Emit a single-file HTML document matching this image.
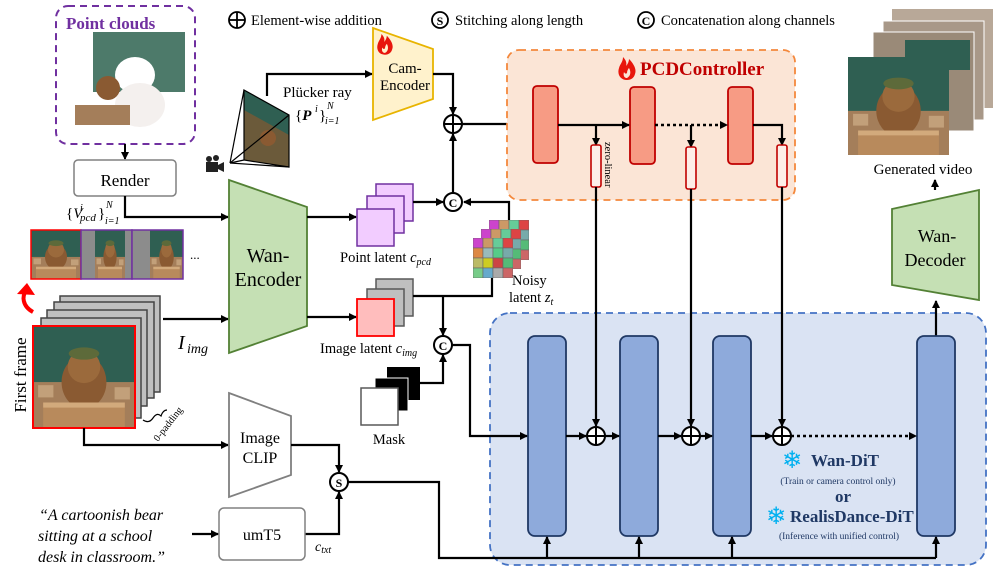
<!DOCTYPE html>
<html><head><meta charset="utf-8"><style>
html,body{margin:0;padding:0;background:#fff;}
svg{display:block;font-family:"Liberation Serif",serif;}
</style></head><body>
<svg width="997" height="580" viewBox="0 0 997 580" xmlns="http://www.w3.org/2000/svg">
<defs>
<marker id="ah" markerWidth="8" markerHeight="8" refX="7" refY="4" orient="auto" markerUnits="userSpaceOnUse">
<path d="M0,0 L8,4 L0,8 z" fill="#000"/></marker>
<symbol id="bear" viewBox="0 0 100 100" preserveAspectRatio="none">
<rect width="100" height="100" fill="#4d7a6a"/>
<rect y="0" width="100" height="55" fill="#2f5f52"/>
<rect y="55" width="100" height="45" fill="#a47e5a"/>
<rect x="5" y="58" width="15" height="12" fill="#c2a07a"/>
<rect x="80" y="60" width="15" height="12" fill="#c2a07a"/>
<ellipse cx="50" cy="55" rx="22" ry="26" fill="#8a5a32"/>
<circle cx="50" cy="40" r="16" fill="#9b6a3c"/>
<ellipse cx="50" cy="27" rx="15" ry="6" fill="#5d6a3a"/>
<rect x="10" y="75" width="80" height="25" fill="#b88a5c"/>
<rect x="10" y="75" width="80" height="5" fill="#d2aa7c"/>
</symbol>
<symbol id="flame" viewBox="0 0 20 26">
<path d="M10,26 C3,26 0,20 2,14 C3,10 6,8 6,3 C9,6 10,9 9,12 C11,10 12,7 12,5 C16,9 20,15 18,20 C17,24 14,26 10,26 z M10,24 C7,24 6,21 7,18 C8,20 9,20 10,19 C10,17 11,15 12,14 C14,17 14,22 10,24z" fill="#e8160c" fill-rule="evenodd"/>
</symbol>
<symbol id="grid" viewBox="0 0 40 40">
<g stroke="#666" stroke-width="0.6">
<rect x="0" y="0" width="10" height="10" fill="#c4c"/><rect x="10" y="0" width="10" height="10" fill="#c96"/><rect x="20" y="0" width="10" height="10" fill="#6c9"/><rect x="30" y="0" width="10" height="10" fill="#d44"/>
<rect x="0" y="10" width="10" height="10" fill="#d84"/><rect x="10" y="10" width="10" height="10" fill="#9bb"/><rect x="20" y="10" width="10" height="10" fill="#5c8"/><rect x="30" y="10" width="10" height="10" fill="#7aa"/>
<rect x="0" y="20" width="10" height="10" fill="#bb6"/><rect x="10" y="20" width="10" height="10" fill="#cc2"/><rect x="20" y="20" width="10" height="10" fill="#c44"/><rect x="30" y="20" width="10" height="10" fill="#5b7"/>
<rect x="0" y="30" width="10" height="10" fill="#7c8"/><rect x="10" y="30" width="10" height="10" fill="#6ac"/><rect x="20" y="30" width="10" height="10" fill="#aaa"/><rect x="30" y="30" width="10" height="10" fill="#c66"/>
</g></symbol>
</defs>

<!-- legend -->
<g font-size="14.5">
<circle cx="237" cy="20" r="8" fill="none" stroke="#000" stroke-width="1.8"/>
<line x1="229" y1="20" x2="245" y2="20" stroke="#000" stroke-width="1.8"/><line x1="237" y1="12" x2="237" y2="28" stroke="#000" stroke-width="1.8"/>
<text x="251" y="25">Element-wise addition</text>
<circle cx="440" cy="20" r="8" fill="none" stroke="#000" stroke-width="1.8"/>
<text x="440" y="25" font-size="12" font-weight="bold" text-anchor="middle">S</text>
<text x="455" y="25">Stitching along length</text>
<circle cx="646" cy="20" r="8" fill="none" stroke="#000" stroke-width="1.8"/>
<text x="646" y="25" font-size="12" font-weight="bold" text-anchor="middle">C</text>
<text x="661" y="25">Concatenation along channels</text>
</g>

<!-- point clouds -->
<rect x="56" y="6" width="139" height="138" rx="12" fill="none" stroke="#7030a0" stroke-width="2" stroke-dasharray="7,5"/>
<text x="66" y="29" font-size="17" font-weight="bold" fill="#7030a0">Point clouds</text>
<rect x="93" y="32" width="92" height="60" fill="#4d7a6a"/>
<ellipse cx="135" cy="75" rx="20" ry="18" fill="#fff"/>
<ellipse cx="140" cy="105" rx="25" ry="22" fill="#f4f0ee"/>
<circle cx="108" cy="88" r="12" fill="#8a5a32"/>
<rect x="75" y="105" width="55" height="20" fill="#a47e5a"/>
<line x1="125" y1="144" x2="125" y2="159" stroke="#000" stroke-width="2" marker-end="url(#ah)"/>
<rect x="74" y="160" width="102" height="36" rx="4" fill="#fff" stroke="#808080" stroke-width="1.5"/>
<text x="125" y="186" font-size="17" text-anchor="middle">Render</text>
<text x="66" y="218" font-size="15">{<tspan font-style="italic">V</tspan></text>
<text x="80" y="211" font-size="10" font-style="italic">i</text>
<text x="80" y="221" font-size="11" font-style="italic">pcd</text>
<text x="98" y="218" font-size="15">}</text>
<text x="106" y="208" font-size="10" font-style="italic">N</text>
<text x="105" y="224" font-size="10" font-style="italic">i=1</text>
<polyline points="125,196 125,217 228,217" fill="none" stroke="#000" stroke-width="2.2" marker-end="url(#ah)"/>
<!-- strip -->
<use href="#bear" x="31" y="230" width="50" height="49"/>
<rect x="31" y="230" width="50" height="49" fill="none" stroke="#f00" stroke-width="1.5"/>
<rect x="81" y="230" width="51" height="49" fill="#8c8c8c"/>
<use href="#bear" x="95" y="230" width="30" height="49"/>
<rect x="81" y="230" width="51" height="49" fill="none" stroke="#7030a0" stroke-width="1.5"/>
<rect x="132" y="230" width="51" height="49" fill="#8c8c8c"/>
<use href="#bear" x="150" y="230" width="33" height="49"/>
<rect x="132" y="230" width="51" height="49" fill="none" stroke="#7030a0" stroke-width="1.5"/>
<text x="190" y="259" font-size="13">...</text>
<!-- red curved arrow -->
<path d="M33,312 C22,306 22,296 26,291" fill="none" stroke="#f00" stroke-width="4"/>
<path d="M17,294 L27,283 L35,295 z" fill="#f00"/>
<!-- stacked frames -->
<rect x="60" y="296" width="100" height="96" fill="#c0c0c0" stroke="#444" stroke-width="1.5"/>
<rect x="54" y="302" width="100" height="96" fill="#c0c0c0" stroke="#444" stroke-width="1.5"/>
<rect x="47" y="310" width="100" height="96" fill="#c0c0c0" stroke="#444" stroke-width="1.5"/>
<rect x="41" y="318" width="100" height="100" fill="#c0c0c0" stroke="#444" stroke-width="1.5"/>
<use href="#bear" x="33" y="326" width="102" height="102"/>
<rect x="33" y="326" width="102" height="102" fill="none" stroke="#f00" stroke-width="2"/>
<text transform="translate(26,375) rotate(-90)" font-size="17" text-anchor="middle">First frame</text>
<path d="M143,420 q6,4 10,-2 q4,-6 8,-2 q2,-6 6,-6" fill="none" stroke="#000" stroke-width="1.2"/>
<text transform="translate(158,442) rotate(-52)" font-size="10">0-padding</text>
<line x1="163" y1="319" x2="228" y2="319" stroke="#000" stroke-width="2.2" marker-end="url(#ah)"/>
<text x="178" y="349" font-size="20" font-style="italic">I</text>
<text x="187" y="353" font-size="14" font-style="italic">img</text>
<!-- Wan encoder -->
<polygon points="229,180 307,207 307,326 229,353" fill="#c5e0b4" stroke="#538135" stroke-width="1.8"/>
<text x="268" y="262" font-size="20" text-anchor="middle">Wan-</text>
<text x="268" y="286" font-size="20" text-anchor="middle">Encoder</text>
<!-- camera -->
<polygon points="244,90 289,115 289,167 244,160" fill="#6b5a3a"/>
<polygon points="244,90 289,115 289,135 244,110" fill="#2f5f52"/>
<circle cx="268" cy="138" r="8" fill="#8a5a32"/>
<polygon points="244,90 289,115 289,167 244,160" fill="none" stroke="#000" stroke-width="1.2"/>
<g stroke="#000" stroke-width="1.2"><line x1="230" y1="163" x2="244" y2="90"/><line x1="230" y1="163" x2="289" y2="115"/><line x1="230" y1="163" x2="289" y2="167"/><line x1="230" y1="163" x2="244" y2="160"/></g>
<rect x="206" y="162" width="12" height="10" fill="#222"/><circle cx="209" cy="159" r="3" fill="#222"/><circle cx="216" cy="158" r="3" fill="#222"/><polygon points="218,165 224,162 224,172 218,169" fill="#222"/>
<polyline points="267,96 267,74 372,74" fill="none" stroke="#000" stroke-width="2.2" marker-end="url(#ah)"/>
<text x="283" y="97" font-size="15">Plücker ray</text>
<text x="295" y="120" font-size="15">{<tspan font-weight="bold" font-style="italic">P</tspan></text>
<text x="315" y="112" font-size="10" font-style="italic">i</text>
<text x="319" y="120" font-size="15">}</text>
<text x="327" y="109" font-size="10" font-style="italic">N</text>
<text x="325" y="124" font-size="10" font-style="italic">i=1</text>
<!-- cam encoder -->
<polygon points="373,28 433,49 433,99 373,120" fill="#fff2cc" stroke="#e8b400" stroke-width="1.8"/>
<use href="#flame" x="376" y="31" width="18" height="24"/>
<text x="405" y="73" font-size="15" text-anchor="middle">Cam-</text>
<text x="405" y="90" font-size="15" text-anchor="middle">Encoder</text>
<polyline points="433,74 453,74 453,114" fill="none" stroke="#000" stroke-width="2.2" marker-end="url(#ah)"/>
<circle cx="453" cy="124" r="9" fill="#fff" stroke="#000" stroke-width="2"/>
<line x1="444" y1="124" x2="462" y2="124" stroke="#000" stroke-width="2"/><line x1="453" y1="115" x2="453" y2="133" stroke="#000" stroke-width="2"/>
<line x1="453" y1="193" x2="453" y2="134" stroke="#000" stroke-width="2.2" marker-end="url(#ah)"/>
<line x1="462" y1="124" x2="532" y2="124" stroke="#000" stroke-width="2.2" marker-end="url(#ah)"/>
<!-- point latent -->
<line x1="307" y1="217" x2="356" y2="217" stroke="#000" stroke-width="2.2" marker-end="url(#ah)"/>
<rect x="376" y="184" width="37" height="37" fill="#f2ccff" stroke="#7030a0" stroke-width="1.5"/>
<rect x="367" y="196" width="37" height="37" fill="#f2ccff" stroke="#7030a0" stroke-width="1.5"/>
<rect x="357" y="209" width="37" height="37" fill="#f2ccff" stroke="#7030a0" stroke-width="1.5"/>
<text x="340" y="262" font-size="14.5">Point latent <tspan font-style="italic">c</tspan><tspan font-style="italic" font-size="10" dy="3">pcd</tspan></text>
<line x1="413" y1="202" x2="443" y2="202" stroke="#000" stroke-width="2.2" marker-end="url(#ah)"/>
<polyline points="509,220 509,202 464,202" fill="none" stroke="#000" stroke-width="2.2" marker-end="url(#ah)"/>
<circle cx="453" cy="202" r="9" fill="#fff" stroke="#000" stroke-width="2"/>
<text x="453" y="207" font-size="12" font-weight="bold" text-anchor="middle">C</text>
<!-- noisy latent grid -->
<use href="#grid" x="489" y="220" width="40" height="40"/>
<use href="#grid" x="481" y="229" width="40" height="40"/>
<use href="#grid" x="473" y="238" width="40" height="40"/>
<text x="512" y="285" font-size="14.5">Noisy</text>
<text x="509" y="302" font-size="14.5">latent <tspan font-style="italic">z</tspan><tspan font-style="italic" font-size="10" dy="3">t</tspan></text>
<!-- image latent -->
<line x1="307" y1="317" x2="356" y2="317" stroke="#000" stroke-width="2.2" marker-end="url(#ah)"/>
<rect x="376" y="279" width="37" height="37" fill="#bfbfbf" stroke="#595959" stroke-width="1.5"/>
<rect x="367" y="289" width="37" height="37" fill="#bfbfbf" stroke="#595959" stroke-width="1.5"/>
<rect x="357" y="299" width="37" height="37" fill="#ffbdbd" stroke="#f00" stroke-width="1.8"/>
<text x="320" y="353" font-size="14.5">Image latent <tspan font-style="italic">c</tspan><tspan font-style="italic" font-size="10" dy="3">img</tspan></text>
<polyline points="413,296 492,296 492,278" fill="none" stroke="#000" stroke-width="2.2"/>
<line x1="443" y1="296" x2="443" y2="335" stroke="#000" stroke-width="2.2" marker-end="url(#ah)"/>
<!-- mask -->
<rect x="387" y="367" width="33" height="33" fill="#000"/>
<rect x="375" y="378" width="33" height="33" fill="#000" stroke="#fff" stroke-width="1"/>
<rect x="361" y="388" width="37" height="37" fill="#fff" stroke="#595959" stroke-width="1.5"/>
<text x="389" y="444" font-size="14.5" text-anchor="middle">Mask</text>
<polyline points="420,383 443,383 443,355" fill="none" stroke="#000" stroke-width="2.2" marker-end="url(#ah)"/>
<circle cx="443" cy="345" r="9" fill="#fff" stroke="#000" stroke-width="2"/>
<text x="443" y="350" font-size="12" font-weight="bold" text-anchor="middle">C</text>

<!-- PCDController -->
<rect x="507" y="50" width="288" height="150" rx="12" fill="#fbe5d6" stroke="#f4883c" stroke-width="1.8" stroke-dasharray="7,5"/>
<use href="#flame" x="617" y="53" width="20" height="28"/>
<text x="640" y="75" font-size="19" font-weight="bold" fill="#c00000">PCDController</text>
<g fill="#f79b84" stroke="#c00000" stroke-width="1.8">
<rect x="533" y="86" width="25" height="77" rx="4"/>
<rect x="630" y="87" width="25" height="77" rx="4"/>
<rect x="728" y="87" width="25" height="77" rx="4"/>
</g>
<line x1="558" y1="125" x2="629" y2="125" stroke="#000" stroke-width="2.2" marker-end="url(#ah)"/>
<line x1="655" y1="125" x2="727" y2="125" stroke="#000" stroke-width="2.5" stroke-dasharray="3,3" marker-end="url(#ah)"/>
<polyline points="753,125 782,125 782,145" fill="none" stroke="#000" stroke-width="2.2" marker-end="url(#ah)"/>
<line x1="596" y1="125" x2="596" y2="145" stroke="#000" stroke-width="2.2" marker-end="url(#ah)"/>
<line x1="691" y1="125" x2="691" y2="147" stroke="#000" stroke-width="2.2" marker-end="url(#ah)"/>
<g fill="#fdeee8" stroke="#c00000" stroke-width="1.6">
<rect x="591" y="145" width="10" height="42" rx="2"/>
<rect x="686" y="147" width="10" height="42" rx="2"/>
<rect x="777" y="145" width="10" height="42" rx="2"/>
</g>
<text transform="translate(605,142) rotate(90)" font-size="10.5">zero-linear</text>

<!-- generated video -->
<rect x="892" y="9" width="101" height="99" fill="#b8a898"/>
<rect x="883" y="21" width="101" height="99" fill="#a89888" stroke="#fff"/>
<rect x="873" y="32" width="101" height="99" fill="#9a8a78" stroke="#fff"/>
<rect x="905" y="40" width="65" height="30" fill="#2f5f52"/>
<use href="#bear" x="848" y="57" width="101" height="98"/>
<text x="923" y="174" font-size="15" text-anchor="middle">Generated video</text>
<line x1="935" y1="190" x2="935" y2="180" stroke="#000" stroke-width="2.2" marker-end="url(#ah)"/>
<polygon points="892,209 979,190 979,300 892,285" fill="#c5e0b4" stroke="#538135" stroke-width="1.8"/>
<text x="937" y="242" font-size="18" text-anchor="middle">Wan-</text>
<text x="935" y="266" font-size="18" text-anchor="middle">Decoder</text>

<!-- DiT -->
<rect x="490" y="313" width="496" height="252" rx="20" fill="#dae3f3" stroke="#4472c4" stroke-width="1.8" stroke-dasharray="7,5"/>
<line x1="936" y1="336" x2="936" y2="301" stroke="#000" stroke-width="2.2" marker-end="url(#ah)"/>
<g fill="#8eaadb" stroke="#1f3864" stroke-width="1.8">
<rect x="528" y="336" width="38" height="200" rx="7"/>
<rect x="620" y="336" width="38" height="200" rx="7"/>
<rect x="713" y="336" width="38" height="200" rx="7"/>
<rect x="917" y="336" width="38" height="200" rx="7"/>
</g>
<line x1="596" y1="187" x2="596" y2="426" stroke="#000" stroke-width="2.2" marker-end="url(#ah)"/>
<line x1="691" y1="189" x2="691" y2="426" stroke="#000" stroke-width="2.2" marker-end="url(#ah)"/>
<line x1="782" y1="187" x2="782" y2="426" stroke="#000" stroke-width="2.2" marker-end="url(#ah)"/>
<polyline points="452,345 470,345 470,436 527,436" fill="none" stroke="#000" stroke-width="2.2" marker-end="url(#ah)"/>
<line x1="566" y1="436" x2="586" y2="436" stroke="#000" stroke-width="2.2" marker-end="url(#ah)"/>
<line x1="605" y1="436" x2="619" y2="436" stroke="#000" stroke-width="2.2" marker-end="url(#ah)"/>
<line x1="658" y1="436" x2="681" y2="436" stroke="#000" stroke-width="2.2" marker-end="url(#ah)"/>
<line x1="700" y1="436" x2="712" y2="436" stroke="#000" stroke-width="2.2" marker-end="url(#ah)"/>
<line x1="751" y1="436" x2="772" y2="436" stroke="#000" stroke-width="2.2" marker-end="url(#ah)"/>
<line x1="791" y1="436" x2="916" y2="436" stroke="#000" stroke-width="2.5" stroke-dasharray="3,3" marker-end="url(#ah)"/>
<g fill="#fff" stroke="#000" stroke-width="2">
<circle cx="596" cy="436" r="9"/><circle cx="691" cy="436" r="9"/><circle cx="782" cy="436" r="9"/>
</g>
<g stroke="#000" stroke-width="2">
<line x1="587" y1="436" x2="605" y2="436"/><line x1="596" y1="427" x2="596" y2="445"/>
<line x1="682" y1="436" x2="700" y2="436"/><line x1="691" y1="427" x2="691" y2="445"/>
<line x1="773" y1="436" x2="791" y2="436"/><line x1="782" y1="427" x2="782" y2="445"/>
</g>
<text x="792" y="468" font-size="24" fill="#00b0f0" text-anchor="middle" font-family="DejaVu Sans">❄</text>
<text x="811" y="466" font-size="17" font-weight="bold" fill="#1f3864">Wan-DiT</text>
<text x="838" y="484" font-size="9.5" fill="#1f3864" text-anchor="middle">(Train or camera control only)</text>
<text x="843" y="502" font-size="17" font-weight="bold" fill="#1f3864" text-anchor="middle">or</text>
<text x="776" y="524" font-size="24" fill="#00b0f0" text-anchor="middle" font-family="DejaVu Sans">❄</text>
<text x="790" y="522" font-size="17" font-weight="bold" fill="#1f3864">RealisDance-DiT</text>
<text x="839" y="539" font-size="9.5" fill="#1f3864" text-anchor="middle">(Inference with unified control)</text>
<polyline points="348,482 439,482 439,558 936,558" fill="none" stroke="#000" stroke-width="2.2"/>
<g stroke="#000" stroke-width="2.2">
<line x1="547" y1="558" x2="547" y2="537" marker-end="url(#ah)"/>
<line x1="639" y1="558" x2="639" y2="537" marker-end="url(#ah)"/>
<line x1="732" y1="558" x2="732" y2="537" marker-end="url(#ah)"/>
<line x1="936" y1="558" x2="936" y2="537" marker-end="url(#ah)"/>
</g>

<!-- CLIP / text -->
<polyline points="84,428 84,445 228,445" fill="none" stroke="#000" stroke-width="2.2" marker-end="url(#ah)"/>
<polygon points="229,393 291,416 291,475 229,497" fill="#fff" stroke="#808080" stroke-width="1.8"/>
<text x="260" y="443" font-size="16" text-anchor="middle">Image</text>
<text x="260" y="463" font-size="16" text-anchor="middle">CLIP</text>
<polyline points="291,445 339,445 339,472" fill="none" stroke="#000" stroke-width="2.2" marker-end="url(#ah)"/>
<polyline points="305,534 339,534 339,492" fill="none" stroke="#000" stroke-width="2.2" marker-end="url(#ah)"/>
<circle cx="339" cy="482" r="9" fill="#fff" stroke="#000" stroke-width="2"/>
<text x="339" y="487" font-size="12" font-weight="bold" text-anchor="middle">S</text>
<rect x="219" y="508" width="86" height="52" rx="5" fill="#fff" stroke="#808080" stroke-width="1.5"/>
<text x="262" y="540" font-size="16" text-anchor="middle">umT5</text>
<line x1="192" y1="534" x2="218" y2="534" stroke="#000" stroke-width="2.2" marker-end="url(#ah)"/>
<text x="315" y="551" font-size="14" font-style="italic">c<tspan font-size="10" dy="2">txt</tspan></text>
<g font-size="16" font-style="italic">
<text x="39" y="520">“A cartoonish bear</text>
<text x="38" y="541">sitting at a school</text>
<text x="38" y="562">desk in classroom.”</text>
</g>
</svg>
</body></html>
